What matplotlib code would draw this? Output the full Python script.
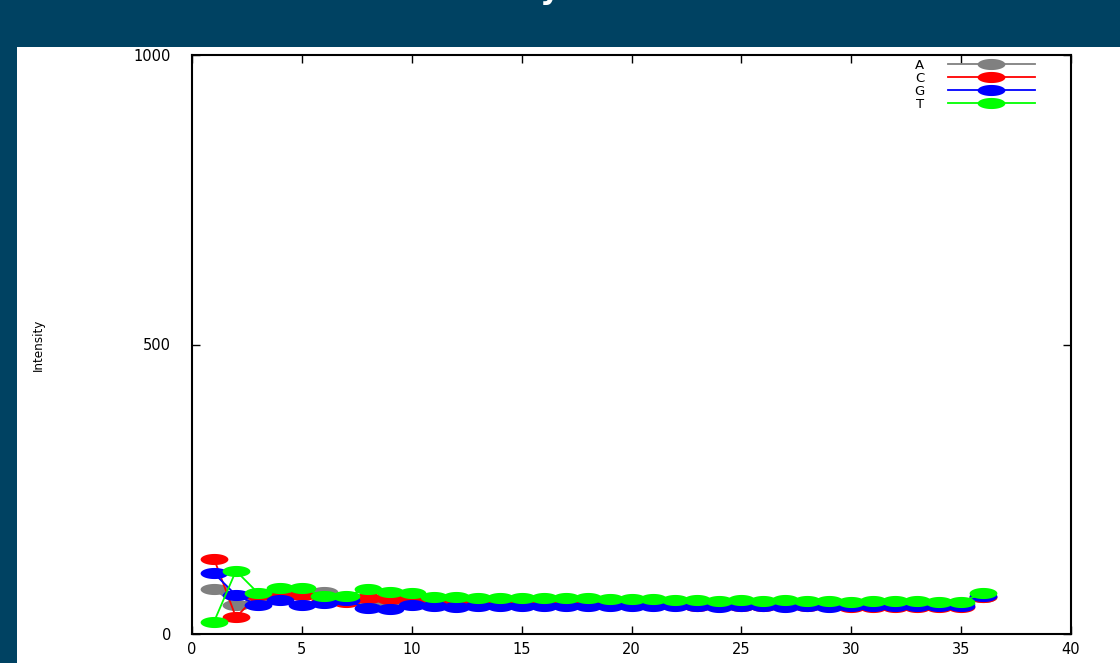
import matplotlib.pyplot as plt
import numpy as np
from matplotlib.patches import Rectangle
from matplotlib.path import Path

cycles = list(range(1, 37))

intensity_a = [78, 50, 62, 65, 70, 73, 62, 58, 55, 58,
               55, 55, 54, 54, 54, 54, 54, 54, 53, 53,
               53, 53, 52, 52, 52, 52, 52, 52, 52, 51,
               51, 51, 51, 51, 51, 64]
intensity_c = [130, 29, 68, 65, 67, 55, 55, 62, 60, 59,
               52, 52, 51, 51, 51, 51, 51, 50, 50, 50,
               50, 50, 49, 49, 49, 49, 49, 48, 48, 47,
               46, 46, 46, 46, 46, 64]
intensity_g = [105, 67, 50, 59, 50, 54, 58, 45, 43, 50,
               48, 47, 48, 48, 48, 48, 48, 49, 49, 48,
               49, 49, 48, 47, 48, 49, 47, 49, 47, 48,
               48, 48, 48, 48, 48, 66]
intensity_t = [21, 109, 71, 79, 79, 66, 66, 78, 73, 71,
               64, 64, 63, 63, 63, 63, 62, 62, 61, 60,
               60, 59, 58, 57, 58, 57, 58, 57, 57, 56,
               57, 57, 57, 56, 55, 71]

series = [
    ("A", intensity_a, "#808080"),
    ("C", intensity_c, "#ff0000"),
    ("G", intensity_g, "#0000ff"),
    ("T", intensity_t, "#00ff00"),
]

# gnuplot output was stretched sideways, so the dots are wide ellipses
theta = np.linspace(0, 2 * np.pi, 60)
ellipse = Path(np.column_stack([np.cos(theta), 0.4 * np.sin(theta)]), closed=True)

fig = plt.figure(figsize=(11.2, 6.63), dpi=100)
fig.patch.set_facecolor("#004262")
fig.patches.append(Rectangle((17 / 1120, 0), 1 - 17 / 1120, 1 - 47 / 663,
                             transform=fig.transFigure, facecolor="white",
                             edgecolor="none", zorder=-10))

fig.text(560 / 1120, 1 + 1 / 663, "Intensity", color="white", fontsize=22,
         fontweight="bold", ha="right", va="baseline")

ax = fig.add_axes([192 / 1120, 1 - 634 / 663, (1071 - 192) / 1120, (634 - 55) / 663])
ax.set_facecolor("white")

for label, values, color in series:
    ax.plot(cycles, values, color=color, lw=1.3, marker=ellipse, markersize=20,
            markeredgewidth=0, label=label)

ax.set_xlim(0, 40)
ax.set_ylim(0, 1000)
ax.set_xticks(range(0, 41, 5))
ax.set_yticks([0, 500, 1000])
ax.tick_params(direction="in", length=6, width=1, top=True, right=True,
               labelsize=10.5)
ax.tick_params(axis="y", pad=15)
ax.tick_params(axis="x", pad=6)
for spine in ax.spines.values():
    spine.set_linewidth(1.5)

ax.set_xlabel("Cycle Number", fontsize=12, labelpad=6)
ax.set_ylabel("Intensity", fontsize=9.5, fontstretch="condensed")
ax.yaxis.set_label_coords(-0.167, 0.5)

ax.legend(loc="upper right", bbox_to_anchor=(1 - 36 / 879, 1 - 4 / 579),
          markerfirst=False, frameon=False, fontsize=9.5, handlelength=6.6,
          handletextpad=1.8, labelspacing=0.0, borderpad=0, borderaxespad=0,
          numpoints=1)

fig.savefig("out.png", dpi=100, facecolor=fig.get_facecolor())
